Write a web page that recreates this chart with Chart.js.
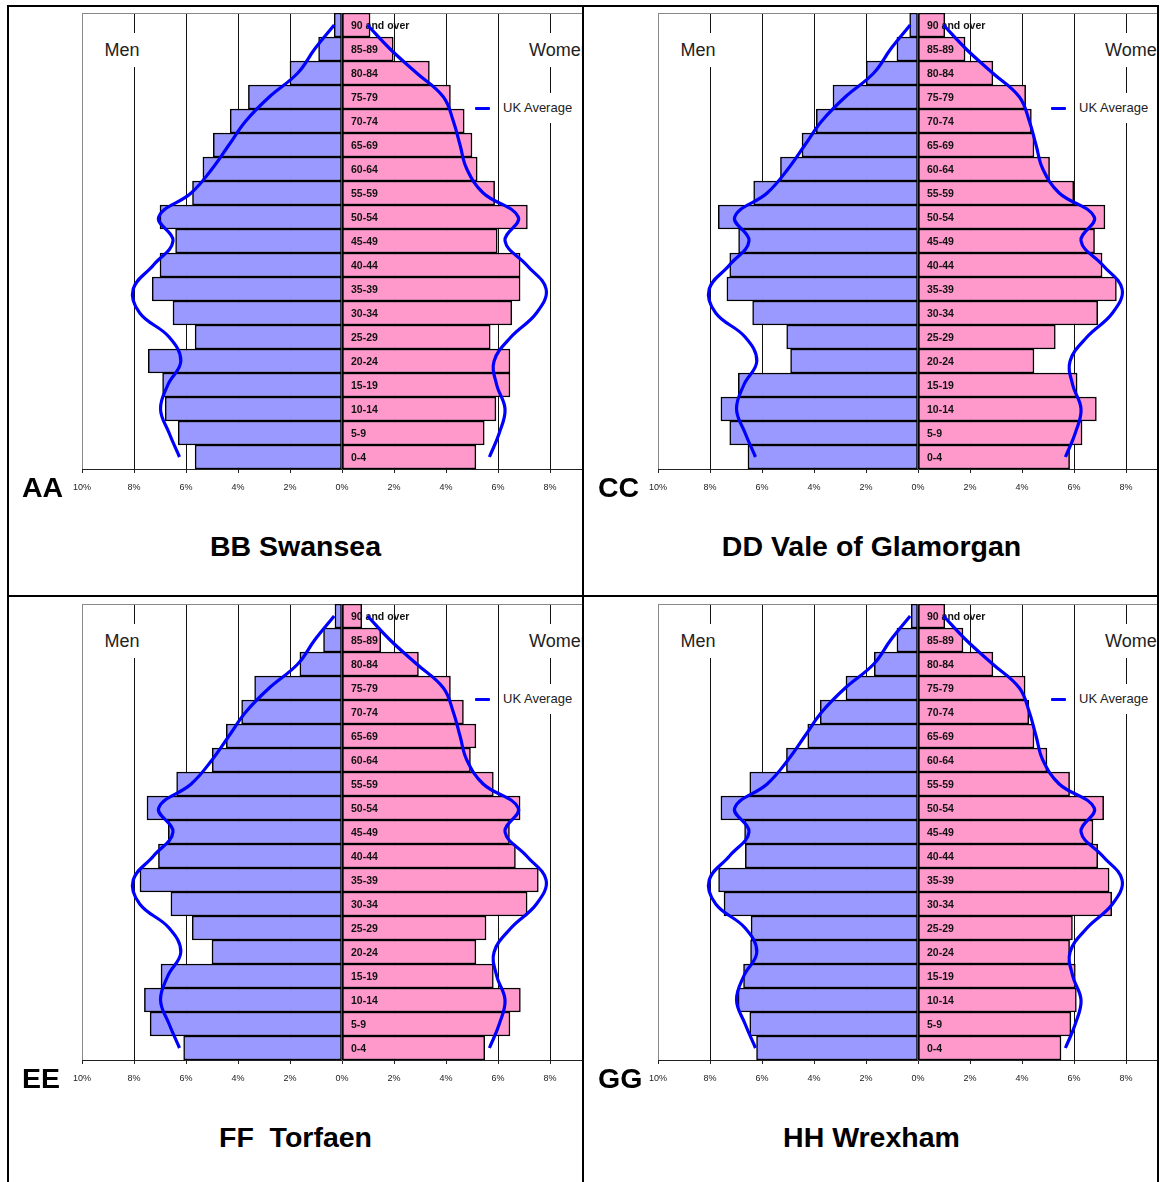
<!DOCTYPE html>
<html>
<head>
<meta charset="utf-8">
<title>Population pyramids</title>
<script src="https://cdn.jsdelivr.net/npm/chart.js@4.4.1/dist/chart.umd.min.js"></script>
<style>
html, body { margin: 0; padding: 0; background: #fff; }
body { width: 1160px; height: 1182px; position: relative; overflow: hidden; font-family: Arial, "Liberation Sans", sans-serif; }
.frame { position: absolute; left: 7px; top: 5px; width: 1152px; height: 1200px; border: 2px solid #000; box-sizing: border-box; }
.vline { position: absolute; left: 582px; top: 5px; width: 2px; height: 1177px; background: #000; }
.hline { position: absolute; left: 7px; top: 595px; width: 1152px; height: 2px; background: #000; }
.cell { position: absolute; overflow: hidden; }
.stage { position: absolute; width: 640px; height: 590px; }
.stage canvas { position: absolute; left: 0; top: 0; }
.sex { position: absolute; top: 33px; height: 34px; line-height: 34px; background: #fff; font-size: 18px; color: #222; white-space: nowrap; }
.men { left: 100px; width: 44px; text-align: center; }
.women { left: 524px; padding-left: 5px; width: 90px; }
.legend { position: absolute; left: 475px; top: 93px; height: 30px; width: 150px; }
.legend .mark { position: absolute; left: 0; top: 14px; width: 15px; height: 3px; background: #00f; border-radius: 1px; }
.legend .txt { position: absolute; left: 26px; top: 0; height: 30px; line-height: 30px; background: #fff; font-size: 13px; color: #222; padding: 0 12px 0 2px; white-space: nowrap; }
.tag { position: absolute; left: 22px; top: 473px; font-size: 28.5px; font-weight: bold; line-height: 28px; color: #000; }
.title { position: absolute; left: 0; width: 591px; text-align: center; top: 532px; font-size: 28.5px; font-weight: bold; line-height: 28px; color: #000; white-space: pre; }
</style>
</head>
<body>
<div class="frame"></div>
<div class="vline"></div>
<div class="hline"></div>

<script>
// Grupos de edad, de abajo (0-4) hacia arriba (90 and over)
const ageGroups = ['0-4', '5-9', '10-14', '15-19', '20-24', '25-29', '30-34', '35-39', '40-44',
    '45-49', '50-54', '55-59', '60-64', '65-69', '70-74', '75-79', '80-84', '85-89', '90 and over'];

// Marcas del eje x (porcentaje de la población)
const xTickValues = [-10, -8, -6, -4, -2, 0, 2, 4, 6, 8, 10];
const xTickLabels = ['10%', '8%', '6%', '4%', '2%', '0%', '2%', '4%', '6%', '8%', '10%'];

// Curva de la media del Reino Unido
const ukMen = [6.25, 6.65, 6.98, 6.7, 6.2, 6.65, 7.78, 8.03, 7.25, 6.5, 7.05, 5.8, 5.0, 4.35, 3.7, 2.8, 1.7, 1.05, 0.3];
const ukWomen = [5.67, 6.05, 6.27, 5.95, 5.85, 6.5, 7.48, 7.85, 7.1, 6.27, 6.78, 5.43, 4.8, 4.54, 4.28, 3.9, 2.87, 1.85, 0.98];

// Valores de cada zona
const swanseaMen = [5.65, 6.3, 6.8, 6.9, 7.45, 5.65, 6.5, 7.3, 7.0, 6.4, 7.0, 5.75, 5.35, 4.95, 4.3, 3.6, 2.0, 0.9, 0.3];
const swanseaWomen = [5.15, 5.47, 5.92, 6.46, 6.46, 5.7, 6.53, 6.85, 6.85, 5.97, 7.13, 5.87, 5.2, 5.0, 4.7, 4.17, 3.36, 1.97, 1.08];

const valeMen = [6.54, 7.24, 7.58, 6.91, 4.9, 5.05, 6.36, 7.35, 7.24, 6.9, 7.68, 6.32, 5.29, 4.46, 3.91, 3.27, 1.99, 0.81, 0.32];
const valeWomen = [5.83, 6.31, 6.86, 6.12, 4.46, 5.28, 6.91, 7.63, 7.08, 6.79, 7.19, 5.99, 5.06, 4.46, 4.36, 4.14, 2.88, 1.81, 1.03];

const torfaenMen = [6.09, 7.38, 7.6, 6.96, 5.0, 5.76, 6.58, 7.77, 7.06, 6.68, 7.5, 6.36, 4.99, 4.45, 3.86, 3.36, 1.62, 0.71, 0.27];
const torfaenWomen = [5.49, 6.46, 6.86, 5.82, 5.15, 5.54, 7.12, 7.55, 6.67, 6.44, 6.85, 5.82, 4.94, 5.15, 4.67, 4.17, 2.94, 1.49, 0.76];

const wrexhamMen = [6.21, 6.47, 6.92, 6.71, 6.44, 6.42, 7.46, 7.67, 6.64, 6.67, 7.58, 6.47, 5.06, 4.24, 3.76, 2.77, 1.68, 0.81, 0.26];
const wrexhamWomen = [5.5, 5.88, 6.09, 6.05, 5.83, 5.94, 7.45, 7.35, 6.91, 6.73, 7.14, 5.83, 4.96, 4.46, 4.26, 4.12, 2.88, 1.73, 1.03];

const panels = [
    { tag: 'AA', title: 'BB Swansea', men: swanseaMen, women: swanseaWomen, col: 0, row: 0 },
    { tag: 'CC', title: 'DD Vale of Glamorgan', men: valeMen, women: valeWomen, col: 1, row: 0 },
    { tag: 'EE', title: 'FF  Torfaen', men: torfaenMen, women: torfaenWomen, col: 0, row: 1 },
    { tag: 'GG', title: 'HH Wrexham', men: wrexhamMen, women: wrexhamWomen, col: 1, row: 1 }
];

// Celdas de la tabla (recorte) y desplazamiento de cada panel
const cells = { colLeft: [9, 584], colWidth: [573, 573], rowTop: [7, 597], rowHeight: [588, 585] };
const offsets = { col: [0, 576], row: [0, 591] };

Chart.defaults.font.family = 'Arial, "Liberation Sans", sans-serif';

// Etiquetas de edad dentro de las barras, antes de dibujar la curva
const ageLabelPlugin = {
    id: 'ageLabels',
    afterDatasetDraw(chart, args) {
        if (chart.data.datasets[args.index].label !== 'Men') return;
        const ctx = chart.ctx;
        const xs = chart.scales.x;
        const ys = chart.scales.y;
        ctx.save();
        ctx.font = 'bold 10.5px Arial, "Liberation Sans", sans-serif';
        ctx.fillStyle = '#111';
        ctx.textBaseline = 'middle';
        const x0 = xs.getPixelForValue(0) + 9;
        chart.data.labels.forEach((lab, i) => ctx.fillText(lab, x0, ys.getPixelForValue(i) + 1));
        ctx.restore();
    }
};

// Borde gris superior del área del gráfico
const framePlugin = {
    id: 'plotFrame',
    beforeDatasetsDraw(chart) {
        const a = chart.chartArea;
        const ctx = chart.ctx;
        ctx.save();
        ctx.strokeStyle = '#888';
        ctx.lineWidth = 1;
        ctx.beginPath();
        ctx.moveTo(a.left, Math.round(a.top) + 0.5);
        ctx.lineTo(a.right, Math.round(a.top) + 0.5);
        ctx.stroke();
        ctx.restore();
    }
};

panels.forEach(p => {
    const cell = document.createElement('div');
    cell.className = 'cell';
    cell.style.left = cells.colLeft[p.col] + 'px';
    cell.style.top = cells.rowTop[p.row] + 'px';
    cell.style.width = cells.colWidth[p.col] + 'px';
    cell.style.height = cells.rowHeight[p.row] + 'px';

    const stage = document.createElement('div');
    stage.className = 'stage';
    stage.style.left = (offsets.col[p.col] - cells.colLeft[p.col]) + 'px';
    stage.style.top = (offsets.row[p.row] - cells.rowTop[p.row]) + 'px';

    const canvas = document.createElement('canvas');
    canvas.width = 640;
    canvas.height = 499;
    stage.appendChild(canvas);

    stage.insertAdjacentHTML('beforeend',
        '<div class="sex men">Men</div>' +
        '<div class="sex women">Women</div>' +
        '<div class="legend"><span class="mark"></span><span class="txt">UK Average</span></div>' +
        '<div class="tag">' + p.tag + '</div>' +
        '<div class="title">' + p.title + '</div>');

    cell.appendChild(stage);
    document.body.appendChild(cell);

    new Chart(canvas.getContext('2d'), {
        data: {
            labels: ageGroups,
            datasets: [
                {
                    type: 'line', label: 'UK Average', data: ukMen.map(v => -v), order: 0,
                    borderColor: '#0000ff', borderWidth: 3.2, pointRadius: 0, tension: 0.4, fill: false
                },
                {
                    type: 'line', label: 'UK Average (women)', data: ukWomen, order: 0,
                    borderColor: '#0000ff', borderWidth: 3.2, pointRadius: 0, tension: 0.4, fill: false
                },
                {
                    type: 'bar', label: 'Men', data: p.men.map(v => -v), order: 1,
                    backgroundColor: '#9999ff', borderColor: '#000', borderWidth: 1.5, borderSkipped: false,
                    grouped: false, barPercentage: 1, categoryPercentage: 1
                },
                {
                    type: 'bar', label: 'Women', data: p.women, order: 1,
                    backgroundColor: '#ff99cc', borderColor: '#000', borderWidth: 1.5, borderSkipped: false,
                    grouped: false, barPercentage: 1, categoryPercentage: 1
                }
            ]
        },
        options: {
            indexAxis: 'y',
            responsive: false,
            maintainAspectRatio: false,
            animation: false,
            layout: { padding: { left: 82, right: 38, top: 13, bottom: 0 } },
            plugins: { legend: { display: false }, tooltip: { enabled: false } },
            scales: {
                y: {
                    type: 'category',
                    reverse: true,
                    display: false,
                    offset: true,
                    grid: { display: false }
                },
                x: {
                    type: 'linear',
                    min: -10,
                    max: 10,
                    afterBuildTicks: s => { s.ticks = xTickValues.map(v => ({ value: v })); },
                    afterFit: s => { s.height = 30; },
                    ticks: {
                        callback: (v, i) => xTickLabels[i],
                        font: { size: 9 },
                        color: '#222',
                        padding: 9,
                        maxRotation: 0,
                        autoSkip: false
                    },
                    grid: {
                        color: c => (c.tick && c.tick.value === -10) ? '#888' : '#111',
                        lineWidth: 1,
                        tickLength: 4,
                        tickColor: '#222'
                    },
                    border: { color: '#222', width: 1 }
                }
            }
        },
        plugins: [framePlugin, ageLabelPlugin]
    });
});
</script>
</body>
</html>
